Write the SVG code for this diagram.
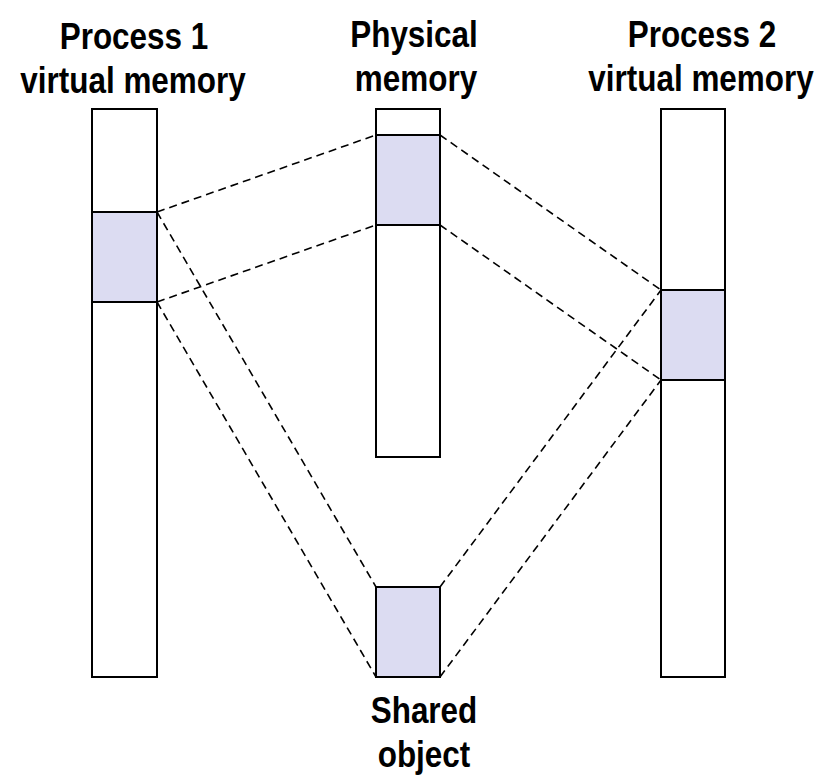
<svg xmlns="http://www.w3.org/2000/svg" width="834" height="784" viewBox="0 0 834 784">
<style>
.box{fill:#ffffff;stroke:#000;stroke-width:2}
.sh{fill:#dcdcf2;stroke:#000;stroke-width:2}
.lbl{font-family:"Liberation Sans",Arial,sans-serif;font-weight:bold;font-size:37px;fill:#000;text-anchor:middle}
.dash{stroke:#000;stroke-width:1.6;stroke-dasharray:8,5;fill:none}
</style>
<rect width="834" height="784" fill="#fff"/>
<g id="connectors">
<line class="dash" x1="157" y1="212" x2="376" y2="135"/>
<line class="dash" x1="157" y1="302" x2="376" y2="225"/>
<line class="dash" x1="157" y1="212" x2="376" y2="587"/>
<line class="dash" x1="157" y1="302" x2="376" y2="677"/>
<line class="dash" x1="440" y1="135" x2="661" y2="290"/>
<line class="dash" x1="440" y1="225" x2="661" y2="380"/>
<line class="dash" x1="440" y1="587" x2="661" y2="290"/>
<line class="dash" x1="440" y1="677" x2="661" y2="380"/>
</g>
<g id="process1">
<rect class="box" x="92" y="109" width="65" height="568"/>
<rect class="sh" x="92" y="212" width="65" height="90"/>
<text class="lbl" transform="translate(134,49) scale(0.85,1)">Process 1</text>
<text class="lbl" transform="translate(133,93) scale(0.85,1)">virtual memory</text>
</g>
<g id="physical">
<rect class="box" x="376" y="109" width="64" height="348"/>
<rect class="sh" x="376" y="135" width="64" height="90"/>
<text class="lbl" transform="translate(414,47) scale(0.85,1)">Physical</text>
<text class="lbl" transform="translate(416,91) scale(0.85,1)">memory</text>
</g>
<g id="process2">
<rect class="box" x="661" y="109" width="64" height="568"/>
<rect class="sh" x="661" y="290" width="64" height="90"/>
<text class="lbl" transform="translate(702,47) scale(0.85,1)">Process 2</text>
<text class="lbl" transform="translate(701,91) scale(0.85,1)">virtual memory</text>
</g>
<g id="shared">
<rect class="sh" x="376" y="587" width="64" height="90"/>
<text class="lbl" transform="translate(424,723) scale(0.85,1)">Shared</text>
<text class="lbl" transform="translate(424,767) scale(0.85,1)">object</text>
</g>
</svg>
